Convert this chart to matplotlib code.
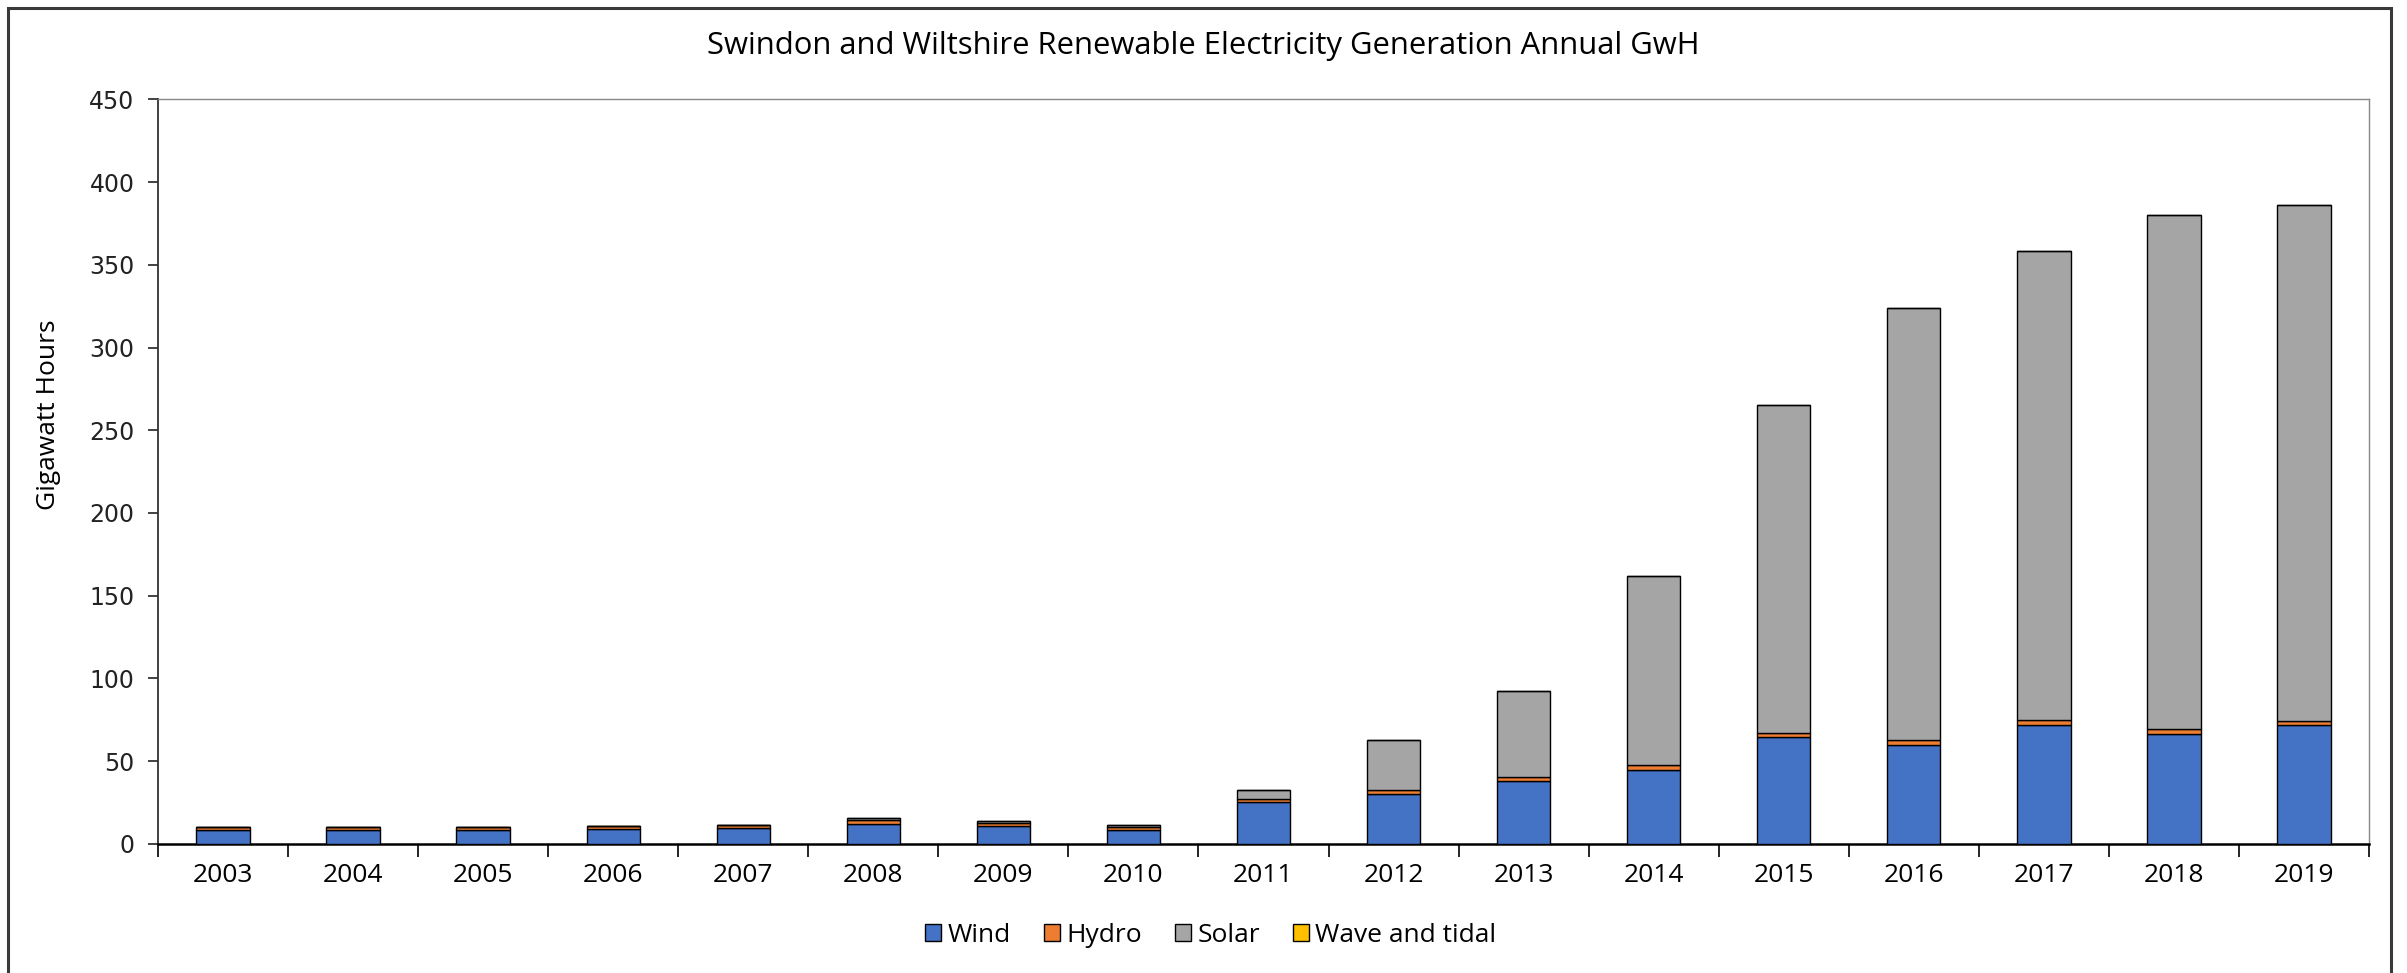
import numpy as np
import matplotlib
matplotlib.use("Agg")
import matplotlib.pyplot as plt
from matplotlib.patches import Rectangle

# Annual generation, GWh
years = ["2003", "2004", "2005", "2006", "2007", "2008", "2009", "2010", "2011",
         "2012", "2013", "2014", "2015", "2016", "2017", "2018", "2019"]
wind = [8.5, 8.5, 8.5, 9.0, 9.5, 12.0, 10.5, 8.5, 25.3,
        30.2, 38.0, 44.9, 64.4, 60.0, 71.8, 66.5, 71.6]
hydro = [1.6, 1.6, 1.6, 1.8, 2.0, 2.3, 2.1, 1.8, 2.0,
         2.3, 2.2, 2.5, 2.6, 2.7, 3.0, 3.0, 2.9]
solar = [0.3, 0.3, 0.3, 0.2, 0.0, 1.0, 0.9, 1.2, 5.3,
         30.5, 52.3, 114.6, 198.0, 261.3, 283.3, 310.8, 311.6]
wave_tidal = [0] * 17

series = ["Wind", "Hydro", "Solar", "Wave and tidal"]
colours = ["#4472C4", "#ED7D31", "#A5A5A5", "#FFC000"]

fig = plt.figure(figsize=(24.07, 9.73), dpi=100)
ax = fig.add_axes([158 / 2407, 129.2 / 973, 2211 / 2407, 744.4 / 973])

x = np.arange(len(years))
bottom = np.zeros(len(years))
for name, vals, col in zip(series, [wind, hydro, solar, wave_tidal], colours):
    ax.bar(x, vals, width=0.41, bottom=bottom, color=col, edgecolor="black",
           linewidth=1.0, label=name, zorder=3)
    bottom += np.array(vals)

ax.set_xlim(-0.5, len(years) - 0.5)
ax.set_ylim(0, 450)
ax.set_yticks(np.arange(0, 451, 50))
ax.tick_params(axis="y", direction="out", length=7, width=1.2, pad=10,
               labelsize=17, colors="#222222")
for lbl in ax.get_yticklabels():
    lbl.set_family("DejaVu Sans")

# categories labelled in the middle, tick marks on the boundaries
ax.set_xticks(x)
ax.set_xticklabels(years, fontsize=19, family="Open Sans")
ax.set_xticks(np.arange(-0.5, len(years)), minor=True)
ax.tick_params(axis="x", which="major", length=0, pad=14)
ax.tick_params(axis="x", which="minor", direction="out", length=9, width=1.2)

for side in ["top", "right"]:
    ax.spines[side].set_color("#888888")
    ax.spines[side].set_linewidth(1.0)
ax.spines["left"].set_color("#333333")
ax.spines["left"].set_linewidth(1.3)
ax.spines["bottom"].set_color("black")
ax.spines["bottom"].set_linewidth(1.8)

ax.set_ylabel("Gigawatt Hours", fontsize=19, family="Open Sans")
ax.yaxis.set_label_coords(-0.0438, 0.576)

fig.text(0.5, 1 - 46 / 973, "Swindon and Wiltshire Renewable Electricity Generation Annual GwH",
         ha="center", va="center", fontsize=22.3, family="Open Sans")

fig.legend(loc="center", bbox_to_anchor=(0.503, 1 - 935 / 973), ncol=4, frameon=False,
           prop={"family": "Open Sans", "size": 19}, handlelength=0.6, handleheight=0.6,
           handletextpad=0.25, columnspacing=1.25)

# outer chart border
fig.patches.append(Rectangle((8 / 2407, -0.05), 2383 / 2407, 1.05 - 8 / 973,
                             transform=fig.transFigure, fill=False,
                             edgecolor="#3a3a3a", linewidth=2.2))

fig.savefig("out.png", dpi=100)
